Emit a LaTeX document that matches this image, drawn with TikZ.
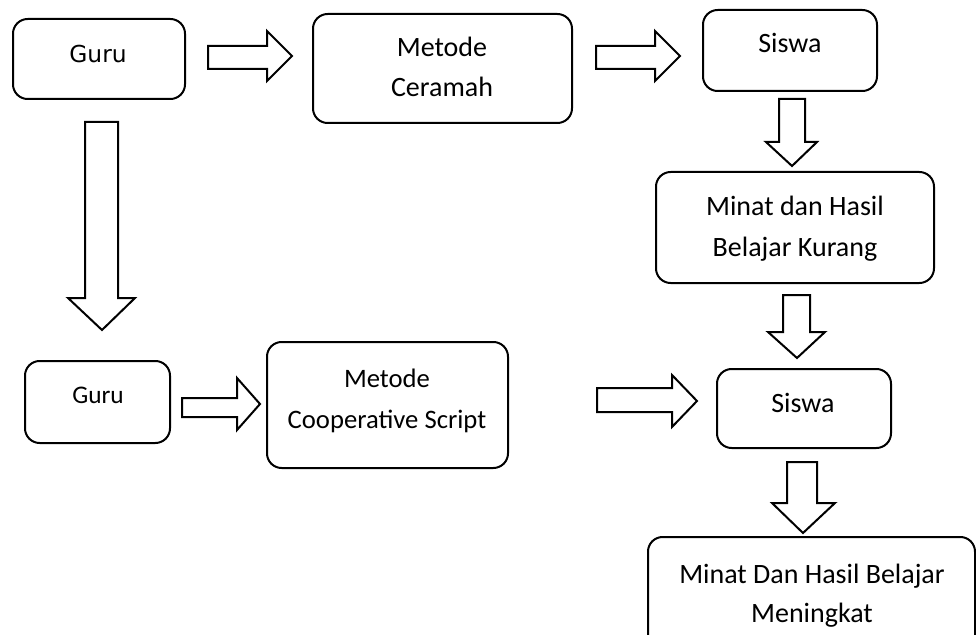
\documentclass[tikz,border=0pt]{standalone}
\usepackage{fontspec}
\setmainfont{Carlito}
\newfontfamily\dvfont{DejaVu Sans}
\usetikzlibrary{fit}
\tikzset{
  box/.style={draw, line width=1.5pt, rounded corners=11pt, inner sep=0pt},
  blockarrow/.style={draw, line width=1.5pt, line join=miter},
  txt/.style={anchor=base, inner sep=0pt, font=\fontsize{21}{25}\selectfont},
}
\begin{document}
\begin{tikzpicture}[x=0.75pt,y=-0.75pt]
\useasboundingbox (0,0) rectangle (976,635);
\clip (0,0) rectangle (976,635);
% boxes
\node[box, fit={(13,19) (185,99)}] (g1) {};
\node[box, fit={(313,14) (572,123)}] (mc) {};
\node[box, fit={(703,10) (877,91)}] (s1) {};
\node[box, fit={(656,172) (934,283)}] (mk) {};
\node[box, fit={(25,361) (170,443)}] (g2) {};
\node[box, fit={(267,342) (508,468)}] (cs) {};
\node[box, fit={(717,369) (891,448)}] (s2) {};
\node[box, fit={(648,537) (975,655)}] (mm) {};
% texts
\node[txt, font=\dvfont\fontsize{17.5}{21}\selectfont] (g1t) at (98,63) {Guru};
\node[txt] (mct1) at (442,57) {Metode};
\node[txt] (mct2) at (442,97) {Ceramah};
\node[txt] (s1t) at (790,53) {Siswa};
\node[txt] (mkt1) at (795,215) {Minat dan Hasil};
\node[txt] (mkt2) at (795,257) {Belajar Kurang};
\node[txt, font=\fontsize{19}{23}\selectfont] (g2t) at (98,403) {Guru};
\node[txt, font=\fontsize{20}{24}\selectfont] (cst1) at (387,387) {Metode};
\node[txt, font=\fontsize{20}{24}\selectfont] (cst2) at (387,428) {Cooperative Script};
\node[txt] (s2t) at (803,412) {Siswa};
\node[txt] (mmt1) at (812,583) {Minat Dan Hasil Belajar};
\node[txt] (mmt2) at (812,622) {Meningkat};
% horizontal block arrows
\draw[blockarrow] (208,46) -- (267,46) -- (267,31) -- (292,56) -- (267,81) -- (267,69) -- (208,69) -- cycle;
\draw[blockarrow] (596,46) -- (655,46) -- (655,31) -- (680,56) -- (655,81) -- (655,69) -- (596,69) -- cycle;
\draw[blockarrow] (182,398) -- (237,398) -- (237,378) -- (260,404) -- (237,430) -- (237,417) -- (182,417) -- cycle;
\draw[blockarrow] (597,388) -- (672,388) -- (672,375) -- (697,401) -- (672,427) -- (672,412) -- (597,412) -- cycle;
% vertical block arrows
\draw[blockarrow] (85,122) -- (118,122) -- (118,298) -- (135,298) -- (102,330) -- (68,298) -- (85,298) -- cycle;
\draw[blockarrow] (779,99) -- (805,99) -- (805,142) -- (817,142) -- (792,166) -- (766,142) -- (779,142) -- cycle;
\draw[blockarrow] (783,295) -- (810,295) -- (810,332) -- (825,332) -- (797,358) -- (768,332) -- (783,332) -- cycle;
\draw[blockarrow] (787,462) -- (817,462) -- (817,503) -- (835,503) -- (803,533) -- (772,503) -- (787,503) -- cycle;
\end{tikzpicture}
\end{document}
